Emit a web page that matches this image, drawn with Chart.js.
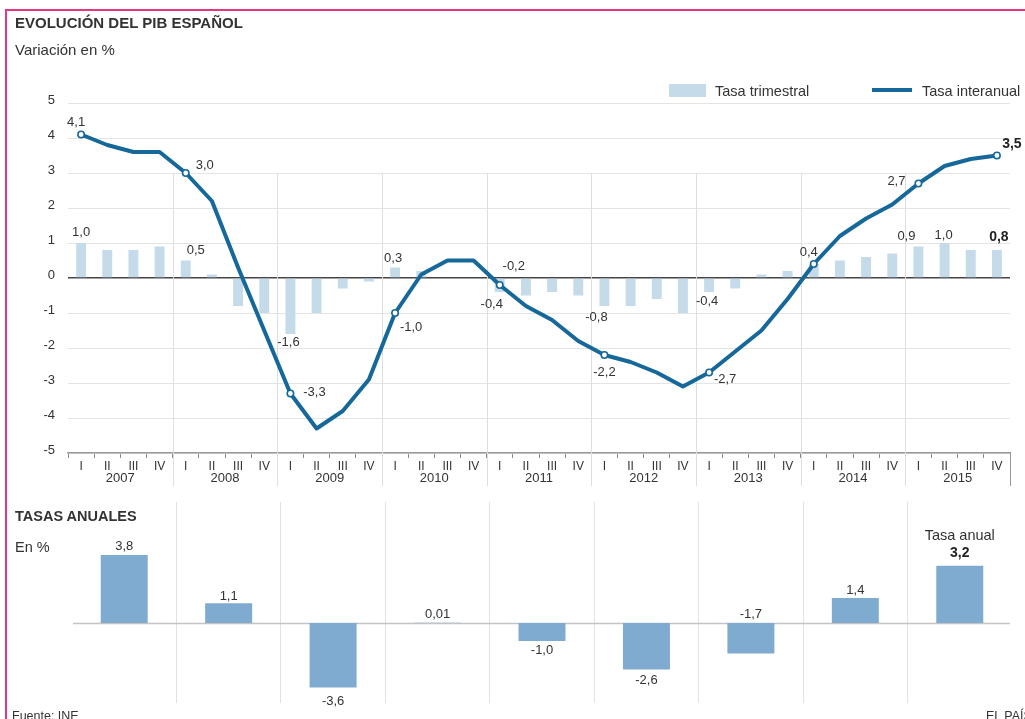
<!DOCTYPE html>
<html><head><meta charset="utf-8">
<script src="https://cdn.jsdelivr.net/npm/chart.js@4"></script>
<style>
html,body{margin:0;padding:0;background:#fff;width:1025px;height:719px;overflow:hidden;font-family:"Liberation Sans",Arial,sans-serif;color:#333}
.abs{position:absolute;white-space:nowrap;line-height:16px}
#frame{position:absolute;left:5px;top:9px;width:1040px;height:740px;border-left:2px solid #e8357f;border-top:2px solid #e8357f}
canvas{position:absolute;left:0}
</style></head>
<body>
<div id="frame"></div>
<canvas id="topChart" width="1025" height="495" style="top:0"></canvas>
<canvas id="bottomChart" width="1025" height="224" style="top:495px"></canvas>
<div class="abs" style="left:15px;top:15px;font-weight:bold;font-size:15px;">EVOLUCIÓN DEL PIB ESPAÑOL</div>
<div class="abs" style="left:15px;top:42px;font-size:15px;">Variación en %</div>
<div class="abs" style="left:669px;top:84px;width:37px;height:13px;background:#c6dbea"></div>
<div class="abs" style="left:715px;top:83px;font-size:14.5px;">Tasa trimestral</div>
<div class="abs" style="left:872px;top:88px;width:40px;height:4px;background:#17689a"></div>
<div class="abs" style="left:922px;top:83px;font-size:14.5px;">Tasa interanual</div>
<div class="abs" style="left:15px;top:508px;font-weight:bold;font-size:14.5px;">TASAS ANUALES</div>
<div class="abs" style="left:15px;top:539px;font-size:14.5px;">En %</div>
<div class="abs" style="left:12px;top:708px;font-size:12.5px;">Fuente: INE</div>
<div class="abs" style="left:986px;top:708px;font-size:12.5px;">EL PAÍS</div>
<script>
// ---- data ----
const quarters = ['I','II','III','IV','I','II','III','IV','I','II','III','IV','I','II','III','IV','I','II','III','IV','I','II','III','IV','I','II','III','IV','I','II','III','IV','I','II','III','IV'];
const years = ['2007','2008','2009','2010','2011','2012','2013','2014','2015'];
const tasaInteranual = [4.1,3.8,3.6,3.6, 3.0,2.2,0.3,-1.5, -3.3,-4.3,-3.8,-2.9, -1.0,0.1,0.5,0.5, -0.2,-0.8,-1.2,-1.8, -2.2,-2.4,-2.7,-3.1, -2.7,-2.1,-1.5,-0.6, 0.4,1.2,1.7,2.1, 2.7,3.2,3.4,3.5];
const tasaTrimestral = [1.0,0.8,0.8,0.9, 0.5,0.1,-0.8,-1.0, -1.6,-1.0,-0.3,-0.1, 0.3,0.2,0.0,0.0, -0.4,-0.5,-0.4,-0.5, -0.8,-0.8,-0.6,-1.0, -0.4,-0.3,0.1,0.2, 0.4,0.5,0.6,0.7, 0.9,1.0,0.8,0.8];
const tasasAnuales = [3.8,1.1,-3.6,0.01,-1.0,-2.6,-1.7,1.4,3.2];
const yTicks = [-5,-4,-3,-2,-1,0,1,2,3,4,5];

// ---- styles / label placement ----
const F = '"Liberation Sans", Arial, sans-serif';
const LINE = '#17689a', BAR = '#c6dbea', BAR2 = '#80abd0';
const markerIdx = [0,4,8,12,16,20,24,28,32,35];
const lineLabelStyle = [
  {i:0,dx:-5,dy:-12},{i:4,dx:19,dy:-8},{i:8,dx:24,dy:-1},{i:12,dx:16,dy:14},
  {i:16,dx:14,dy:-19},{i:20,dx:0,dy:17},{i:24,dx:16,dy:7},{i:28,dx:-5,dy:-12},
  {i:32,dx:-22,dy:-2},{i:35,dx:15,dy:-11,bold:true}
];
const barLabelStyle = [
  {i:0,dx:0,dy:-11},{i:4,dx:10,dy:-10},{i:8,dx:-2,dy:8},{i:12,dx:-2,dy:-9},
  {i:16,dx:-8,dy:12},{i:20,dx:-8,dy:11},{i:24,dx:-2,dy:9},
  {i:32,dx:-12,dy:-10},{i:33,dx:-1,dy:-8},{i:35,dx:2,dy:-13,bold:true}
];
const annualLabelStyle = [
  {dy:-9},{dy:-7},{dy:14},{dy:-8},{dy:10},{dy:11},{dy:-9,atBase:true},{dy:-8},{dy:-13,bold:true,caption:'Tasa anual'}
];

function fmt(v){
  const dec = Math.abs(v*10 - Math.round(v*10)) > 1e-9 ? 2 : 1;
  return v.toFixed(dec).replace('.', ',');
}
function drawText(ctx, txt, x, y, bold, size){
  ctx.font = (bold ? 'bold 14px ' : (size || 13) + 'px ') + F;
  ctx.fillStyle = bold ? '#222' : '#333';
  ctx.textAlign = 'center'; ctx.textBaseline = 'middle';
  ctx.fillText(txt, x, y);
}

const yearPlugin = {
  id: 'years',
  beforeDatasetsDraw(chart){
    const {ctx, chartArea, scales:{x, y}} = chart;
    ctx.save();
    ctx.lineWidth = 1;
    const top = y.getPixelForValue(3);
    for (let k = 1; k <= years.length; k++){
      const idx = k*4;
      let xb, y0;
      if (k < years.length){ xb = (x.getPixelForValue(idx-1) + x.getPixelForValue(idx))/2; y0 = top; ctx.strokeStyle = '#dedede'; }
      else { xb = chartArea.right; y0 = chartArea.bottom; ctx.strokeStyle = '#999'; }
      xb = Math.round(xb) + 0.5;
      ctx.beginPath(); ctx.moveTo(xb, y0); ctx.lineTo(xb, chartArea.bottom + 33); ctx.stroke();
    }
    ctx.font = '13px ' + F; ctx.fillStyle = '#333'; ctx.textAlign = 'center'; ctx.textBaseline = 'middle';
    years.forEach((yr, k) => {
      const cx = (x.getPixelForValue(k*4) + x.getPixelForValue(k*4+3))/2;
      ctx.fillText(yr, cx, chartArea.bottom + 25);
    });
    ctx.restore();
  }
};
const labelPlugin = {
  id: 'labels',
  afterDatasetsDraw(chart){
    const ctx = chart.ctx;
    const lm = chart.getDatasetMeta(0), bm = chart.getDatasetMeta(1);
    ctx.save();
    lineLabelStyle.forEach(s => { const p = lm.data[s.i]; drawText(ctx, fmt(tasaInteranual[s.i]), p.x + s.dx, p.y + s.dy, s.bold); });
    barLabelStyle.forEach(s => { const b = bm.data[s.i]; drawText(ctx, fmt(tasaTrimestral[s.i]), b.x + s.dx, b.y + s.dy, s.bold); });
    ctx.restore();
  }
};

new Chart(document.getElementById('topChart'), {
  type: 'bar',
  data: {
    labels: quarters,
    datasets: [
      {type:'line', label:'Tasa interanual', data: tasaInteranual, borderColor: LINE, borderWidth: 4, tension: 0,
       borderJoinStyle:'round', borderCapStyle:'round',
       pointRadius: c => markerIdx.includes(c.dataIndex) ? 3.2 : 0,
       pointBackgroundColor:'#fff', pointBorderColor: LINE, pointBorderWidth: 1.6, order: 0},
      {type:'bar', label:'Tasa trimestral', data: tasaTrimestral, backgroundColor: BAR,
       barPercentage: 0.38, categoryPercentage: 1, order: 1}
    ]
  },
  options: {
    responsive: false, animation: false, events: [],
    layout: {padding: {left: 0, right: 15, top: 103, bottom: 0}},
    plugins: {legend: {display: false}, tooltip: {enabled: false}},
    scales: {
      x: {
        offset: true,
        grid: {offset: true, drawOnChartArea: false, tickLength: 5, tickColor: '#888', tickWidth: 1},
        border: {color: '#999', width: 1.5},
        ticks: {font: {size: 12, family: F}, color: '#333', padding: 1, maxRotation: 0, autoSkip: false},
        afterFit: s => { s.height = 42; }
      },
      y: {
        min: -5, max: 5,
        afterBuildTicks: s => { s.ticks = yTicks.map(v => ({value: v})); },
        ticks: {font: {size: 13, family: F}, color: '#333', padding: 13, labelOffset: -3},
        grid: {color: c => c.tick && c.tick.value === 0 ? '#444' : '#e4e4e4', lineWidth: c => c.tick && c.tick.value === 0 ? 1.5 : 1, drawTicks: false},
        border: {display: false},
        afterFit: s => { s.width = 68; }
      }
    }
  },
  plugins: [yearPlugin, labelPlugin]
});

const zeroPlugin = {
  id: 'zero',
  beforeDatasetsDraw(chart){
    const {ctx, scales:{y}} = chart;
    const y0 = Math.round(y.getPixelForValue(0)) + 0.5;
    ctx.save(); ctx.strokeStyle = '#c4c4c4'; ctx.lineWidth = 1.5;
    ctx.beginPath(); ctx.moveTo(73, y0); ctx.lineTo(1010, y0); ctx.stroke(); ctx.restore();
  },
  afterDatasetsDraw(chart){
    const ctx = chart.ctx, bm = chart.getDatasetMeta(0);
    ctx.save();
    annualLabelStyle.forEach((s, i) => {
      const b = bm.data[i];
      const yy = (s.atBase ? b.base : b.y) + s.dy;
      drawText(ctx, fmt(tasasAnuales[i]), b.x, yy, s.bold);
      if (s.caption) drawText(ctx, s.caption, b.x, yy - 17, false, 14.5);
    });
    ctx.restore();
  }
};

new Chart(document.getElementById('bottomChart'), {
  type: 'bar',
  data: {labels: years, datasets: [{label: 'Tasa anual', data: tasasAnuales, backgroundColor: BAR2, barPercentage: 0.45, categoryPercentage: 1}]},
  options: {
    responsive: false, animation: false, events: [],
    layout: {padding: {left: 72, right: 13, top: 7, bottom: 16}},
    plugins: {legend: {display: false}, tooltip: {enabled: false}},
    scales: {
      x: {offset: true, grid: {offset: true, drawTicks: false, color: c => (c.type === 'tick' && c.index > 0) ? '#e2e2e2' : 'rgba(0,0,0,0)'},
          ticks: {display: false}, border: {display: false}},
      y: {display: false, min: -4.47, max: 6.76}
    }
  },
  plugins: [zeroPlugin]
});
</script>
</body></html>
